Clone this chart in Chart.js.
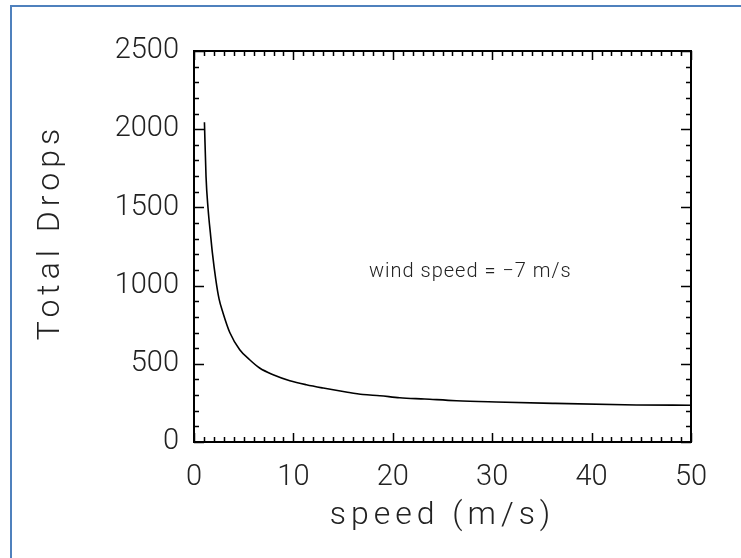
<!DOCTYPE html>
<html>
<head>
<meta charset="utf-8">
<script src="https://cdn.jsdelivr.net/npm/chart.js@4"></script>
<style>
  html, body { margin: 0; padding: 0; background: #fff; }
  #wrap { position: relative; width: 741px; height: 558px; overflow: hidden; }
  #frame { position: absolute; left: 10px; top: 5px; width: 800px; height: 600px;
           border-left: 2px solid #4f81bd; border-top: 2px solid #4f81bd; }
  #c { position: absolute; left: 0; top: 0; }
</style>
</head>
<body>
<div id="wrap">
  <div id="frame"></div>
  <canvas id="c" width="741" height="558"></canvas>
</div>
<script>
// valeurs
const speeds = [1.05, 1.21, 1.41, 1.68, 1.85, 2.19, 2.52, 2.92, 3.6, 4.6, 5.6, 6.6, 7.96, 9.64,
                11.3, 13.0, 15.3, 17.0, 18.7, 20.7, 23.2, 26.4, 30.4, 36.1, 44.5, 50];
const drops = [2044, 1698, 1496, 1315, 1209, 1040, 915, 825, 700, 590, 526, 473, 430, 392,
               366, 345, 320, 304, 296, 283, 275, 264, 256, 247, 237, 235];
const xTicks = [0, 10, 20, 30, 40, 50];
const yTicks = [0, 500, 1000, 1500, 2000, 2500];
const note = 'wind speed = \u22127 m/s';
const xTitle = 'speed (m/s)';
const yTitle = 'Total Drops';

const textColor = '#222';
const labelFont = 'Roboto, Liberation Sans, sans-serif';

// cadre + graduations vers l'intérieur, titres et annotation
const idlFrame = {
    id: 'idlFrame',
    afterDraw(chart) {
        const { ctx, chartArea: a, scales: { x, y } } = chart;
        ctx.save();
        ctx.strokeStyle = '#000';
        ctx.lineWidth = 2;
        ctx.strokeRect(a.left, a.top, a.right - a.left, a.bottom - a.top);

        ctx.lineWidth = 1.5;
        ctx.beginPath();
        for (let v = 0; v <= 50; v += 1) {
            const px = Math.round(x.getPixelForValue(v)) + 0.5;
            const len = v % 10 === 0 ? 9 : 5;
            ctx.moveTo(px, a.bottom); ctx.lineTo(px, a.bottom - len);
            ctx.moveTo(px, a.top); ctx.lineTo(px, a.top + len);
        }
        for (let v = 0; v <= 2500; v += 100) {
            const py = Math.round(y.getPixelForValue(v)) + 0.5;
            const len = v % 500 === 0 ? 10 : 5;
            ctx.moveTo(a.left, py); ctx.lineTo(a.left + len, py);
            ctx.moveTo(a.right, py); ctx.lineTo(a.right - len, py);
        }
        ctx.stroke();

        ctx.fillStyle = textColor;
        ctx.textBaseline = 'middle';
        ctx.textAlign = 'center';
        ctx.font = '300 32px ' + labelFont;
        ctx.letterSpacing = '5px';
        ctx.fillText(xTitle, (a.left + a.right) / 2, 516);

        ctx.save();
        ctx.translate(51, 232);
        ctx.rotate(-Math.PI / 2);
        ctx.fillText(yTitle, 0, 0);
        ctx.restore();

        ctx.font = '300 20px ' + labelFont;
        ctx.letterSpacing = '1px';
        ctx.textAlign = 'left';
        ctx.fillText(note, x.getPixelForValue(17.6), y.getPixelForValue(1090));
        ctx.restore();
    }
};

new Chart(document.getElementById('c'), {
    type: 'line',
    data: {
        datasets: [{
            data: speeds.map((s, i) => ({ x: s, y: drops[i] })),
            borderColor: '#000',
            borderWidth: 1.6,
            pointRadius: 0,
            fill: false,
            cubicInterpolationMode: 'monotone'
        }]
    },
    options: {
        responsive: false,
        animation: false,
        devicePixelRatio: 1,
        layout: { padding: { left: 0, top: 51, right: 50, bottom: 0 } },
        plugins: {
            legend: { display: false },
            tooltip: { enabled: false }
        },
        scales: {
            x: {
                type: 'linear',
                min: 0,
                max: 50,
                afterFit: s => { s.height = 116; },
                afterBuildTicks: s => { s.ticks = xTicks.map(v => ({ value: v })); },
                grid: { display: false, drawTicks: false },
                border: { display: false },
                ticks: {
                    color: textColor,
                    padding: 18,
                    maxRotation: 0,
                    callback: v => String(v),
                    font: { family: labelFont, size: 29, weight: '300' }
                }
            },
            y: {
                type: 'linear',
                min: 0,
                max: 2500,
                afterFit: s => { s.width = 194; },
                afterBuildTicks: s => { s.ticks = yTicks.map(v => ({ value: v })); },
                grid: { display: false, drawTicks: false },
                border: { display: false },
                ticks: {
                    color: textColor,
                    padding: 15,
                    callback: v => String(v),
                    font: { family: labelFont, size: 29, weight: '300' }
                }
            }
        }
    },
    plugins: [idlFrame]
});
</script>
</body>
</html>
